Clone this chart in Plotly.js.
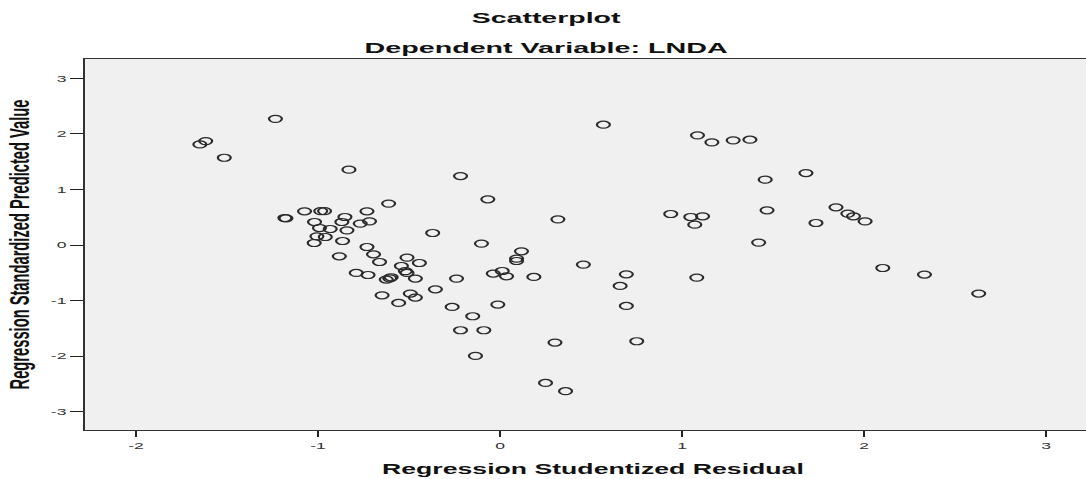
<!DOCTYPE html>
<html>
<head>
<meta charset="utf-8">
<script src="https://cdn.plot.ly/plotly-3.0.1.min.js"></script>
<style>
  html, body { margin: 0; padding: 0; background: #ffffff; overflow: hidden; width: 1086px; height: 479px; }
  #chart { width: 600px; height: 479px; transform: scaleX(1.85); transform-origin: 0 0; }
</style>
</head>
<body>
<div id="chart"></div>
<script>
// Regression Studentized Residual (x) and Regression Standardized Predicted Value (y)
const residual = [
  -1.649, -1.617, -1.515, -1.234, -0.830, -1.182, -1.176, -1.074, -0.985, -0.964,
  -0.731, -0.612, -0.852, -1.019, -0.869, -0.717, -0.768, -0.992, -0.933, -0.841,
  -1.006, -0.960, -1.021, -0.865, -0.731, -0.370, -0.883, -0.695, -0.662, -0.511,
  -0.443, -0.542, -0.790, -0.725, -0.520, -0.511, -0.625, -0.606, -0.598, -0.465,
  -0.355, -0.648, -0.493, -0.465, -0.557, -0.102, 0.118, 0.091, 0.091, 0.012,
  -0.037, 0.036, 0.186, -0.239, -0.263, -0.012, -0.150, -0.217, -0.089, 0.302,
  -0.135, 0.250, 0.360, 0.458, 0.694, 0.660, 0.694, 0.751, 1.081, 1.421,
  0.568, 1.085, 1.164, 1.281, 1.373, 1.457, 1.681, 0.938, 1.048, 1.113,
  1.070, 1.467, 1.846, 1.911, 1.942, 2.006, 1.736, 2.103, -0.217, -0.067,
  0.318, 2.332, 2.630
];
const predicted = [
  1.810, 1.870, 1.570, 2.270, 1.356, 0.486, 0.480, 0.606, 0.610, 0.610,
  0.606, 0.745, 0.504, 0.414, 0.414, 0.426, 0.385, 0.306, 0.288, 0.264,
  0.156, 0.144, 0.036, 0.072, -0.036, 0.216, -0.203, -0.167, -0.306, -0.227,
  -0.324, -0.378, -0.503, -0.540, -0.470, -0.503, -0.622, -0.600, -0.580, -0.604,
  -0.797, -0.905, -0.874, -0.946, -1.043, 0.025, -0.113, -0.245, -0.288, -0.468,
  -0.514, -0.563, -0.575, -0.605, -1.115, -1.072, -1.282, -1.534, -1.534, -1.755,
  -1.996, -2.482, -2.631, -0.353, -0.527, -0.737, -1.097, -1.732, -0.587, 0.043,
  2.165, 1.973, 1.847, 1.883, 1.895, 1.176, 1.295, 0.558, 0.504, 0.516,
  0.366, 0.624, 0.678, 0.565, 0.516, 0.426, 0.396, -0.414, 1.241, 0.822,
  0.462, -0.532, -0.874
];
const xTickVals = [-2, -1, 0, 1, 2, 3];
const xTickText = ['-2', '-1', '0', '1', '2', '3'];
const yTickVals = [-3, -2, -1, 0, 1, 2, 3];
const yTickText = ['-3', '-2', '-1', '0', '1', '2', '3'];

const FONT = 'Liberation Sans, Arial, Helvetica, sans-serif';

const trace = {
  type: 'scatter',
  mode: 'markers',
  x: residual,
  y: predicted,
  marker: {
    symbol: 'circle-open',
    size: 7,
    color: '#2a2a2a',
    line: { width: 1.2, color: '#2a2a2a' }
  },
  hoverinfo: 'skip',
  showlegend: false
};

const layout = {
  width: 600,
  height: 479,
  margin: { l: 46, r: 5, t: 59, b: 49, pad: 0 },
  paper_bgcolor: '#ffffff',
  plot_bgcolor: '#f0f0f0',
  showlegend: false,
  font: { family: FONT, color: '#222' },
  xaxis: {
    range: [-2.2797, 3.3006],
    tickvals: xTickVals,
    ticktext: xTickText,
    ticks: 'outside',
    ticklen: 6,
    tickwidth: 1.2,
    tickcolor: '#222',
    showline: true,
    linecolor: '#333',
    linewidth: 1.2,
    mirror: true,
    showgrid: false,
    zeroline: false,
    tickfont: { family: FONT, size: 9.5, color: '#333' },
    title: {
      text: 'Regression Studentized Residual',
      font: { family: FONT, size: 14.4, color: '#111', weight: 'bold' },
      standoff: 14
    }
  },
  yaxis: {
    range: [-3.329, 3.347],
    tickvals: yTickVals,
    ticktext: yTickText,
    ticks: 'outside',
    ticklen: 7,
    tickwidth: 1,
    tickcolor: '#222',
    showline: true,
    linecolor: '#333',
    linewidth: 1.2,
    mirror: false,
    showgrid: false,
    zeroline: false,
    tickfont: { family: FONT, size: 9.5, color: '#333' },
    title: {
      text: 'Regression Standardized Predicted Value',
      font: { family: FONT, size: 14.7, color: '#111', weight: 'bold' },
      standoff: 7
    }
  },
  annotations: [
    {
      text: 'Scatterplot',
      xref: 'paper', yref: 'paper',
      x: 0.4543, y: 1.1119,
      xanchor: 'center', yanchor: 'middle',
      showarrow: false,
      font: { family: FONT, size: 15.4, color: '#111', weight: 'bold' }
    },
    {
      text: 'Dependent Variable: LNDA',
      xref: 'paper', yref: 'paper',
      x: 0.4543, y: 1.031,
      xanchor: 'center', yanchor: 'middle',
      showarrow: false,
      font: { family: FONT, size: 15.5, color: '#111', weight: 'bold' }
    }
  ]
};

Plotly.newPlot('chart', [trace], layout, { displayModeBar: false, staticPlot: true, responsive: false });
</script>
</body>
</html>
